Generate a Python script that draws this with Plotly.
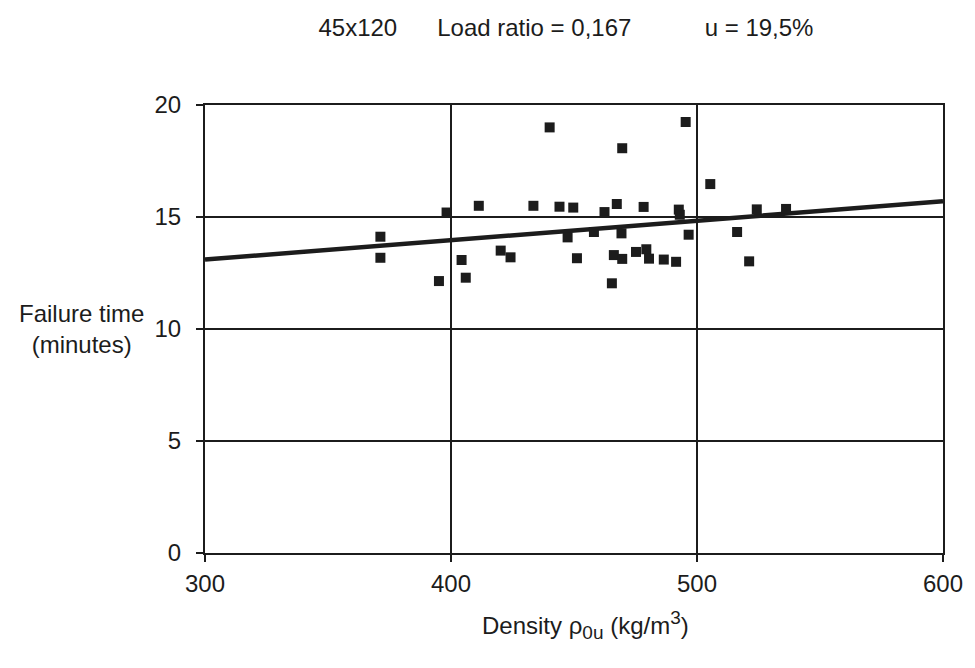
"""Failure time vs density scatter with linear trend."""

import plotly.graph_objects as go

# measured specimens: density (kg/m3) and failure time (minutes)
density = [
    440.1, 398.2, 411.3, 433.5, 444.1, 449.7, 462.4, 467.4, 478.3, 492.6,
    493.0, 524.3, 536.2, 495.4, 469.6, 505.4, 371.3, 371.3, 404.3, 395.1,
    406.0, 420.2, 424.2, 447.4, 458.1, 469.3, 496.6, 516.3, 451.2, 466.2,
    469.6, 475.2, 479.4, 480.5, 486.5, 491.5, 521.2, 465.4,
]
failure_time = [
    19.0, 15.2, 15.5, 15.5, 15.46, 15.42, 15.22, 15.58, 15.45, 15.33,
    15.1, 15.34, 15.36, 19.24, 18.07, 16.47, 14.12, 13.18, 13.08, 12.14,
    12.29, 13.5, 13.2, 14.09, 14.33, 14.27, 14.21, 14.33, 13.16, 13.3,
    13.13, 13.44, 13.56, 13.14, 13.1, 13.0, 13.02, 12.04,
]

# regression line end points
trend_x = [300, 600]
trend_y = [13.1, 15.7]

x_ticks = [300, 400, 500, 600]
y_ticks = [0, 5, 10, 15, 20]

FONT = "Liberation Sans, Arial, sans-serif"
INK = "#1c1c1c"
NB = "\u00a0"
SMALL = "<span style='font-size:19px'>{}</span>"

fig = go.Figure()
fig.add_trace(
    go.Scatter(
        x=trend_x,
        y=trend_y,
        mode="lines",
        line=dict(color=INK, width=4.5),
        hoverinfo="skip",
    )
)
fig.add_trace(
    go.Scatter(
        x=density,
        y=failure_time,
        mode="markers",
        marker=dict(symbol="square", size=10, color=INK),
    )
)

axis_common = dict(
    showline=True,
    linecolor=INK,
    linewidth=2,
    mirror=True,
    showgrid=True,
    gridcolor=INK,
    gridwidth=1.6,
    zeroline=False,
    ticks="outside",
    ticklen=7,
    tickwidth=1.6,
    tickcolor=INK,
    tickfont=dict(family=FONT, size=24, color=INK),
)

# page renders with an 8px body offset, so the figure is shrunk by that much
fig.update_layout(
    width=967,
    height=660,
    showlegend=False,
    plot_bgcolor="white",
    paper_bgcolor="white",
    margin=dict(l=197, r=27, t=97, b=115),
    title=dict(
        text="45x120" + NB * 6 + "Load ratio = 0,167" + NB * 11 + "u = 19,5%",
        x=0.577,
        xanchor="center",
        y=0.97,
        yanchor="middle",
        font=dict(family=FONT, size=24, color=INK),
    ),
    xaxis=dict(
        range=[300, 600],
        tickvals=x_ticks,
        ticklabelstandoff=1,
        **axis_common,
    ),
    yaxis=dict(
        range=[0, 20],
        tickvals=y_ticks,
        ticklabelstandoff=10,
        **axis_common,
    ),
    annotations=[
        dict(
            text="Failure time<br>(minutes)",
            xref="paper",
            yref="paper",
            x=-0.168,
            y=0.5,
            xanchor="center",
            yanchor="middle",
            showarrow=False,
            align="center",
            font=dict(family=FONT, size=24, color=INK),
        ),
        dict(
            text="Density \u03c1<sub>" + SMALL.format("0u") + "</sub> (kg/m<sup>"
            + SMALL.format("3") + "</sup>)",
            xref="paper",
            yref="paper",
            x=0.515,
            y=-0.161,
            xanchor="center",
            yanchor="middle",
            showarrow=False,
            font=dict(family=FONT, size=24, color=INK),
        ),
    ],
)

fig.write_html("out.html")
